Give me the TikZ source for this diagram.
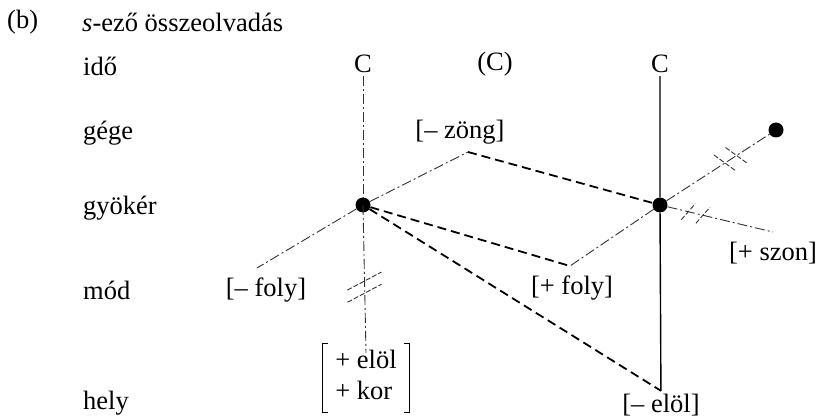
\documentclass[tikz,border=0pt]{standalone}
\usepackage{fontspec}
\setmainfont{Liberation Serif}
\usetikzlibrary{calc}
\tikzset{
  % sorok feliratai
  tier/.style={anchor=west, inner sep=0pt, font=\fontsize{26.5}{31}\selectfont},
  % jegyek, idopontok
  feat/.style={inner sep=3pt, font=\fontsize{26.5}{31}\selectfont},
  % gyokercsomopont
  rootnode/.style={circle, fill=black, minimum size=15pt, inner sep=0pt},
  % kapcsolatok
  assoc/.style={line width=0.9pt, black!80, dash pattern=on 10pt off 3pt on 2pt off 3pt},
  spread/.style={line width=1.8pt, dash pattern=on 9pt off 5pt},
  skel/.style={line width=1.4pt},
  % lekapcsolas jele
  delink/.style={line width=0.9pt, black!80, dash pattern=on 5pt off 2pt},
  % szogletes zarojel
  brace/.style={line width=1.2pt},
}

\begin{document}
\begin{tikzpicture}[x=1pt, y=-1pt]
  \useasboundingbox (0,0) rectangle (823,417);
  % sorok
  \node[tier] (b) at (7,22) {(b)};
  \node[tier] (title) at (82,22) {\textit{s}-ező összeolvadás};
  \node[tier] (ido) at (83,66) {idő};
  \node[tier] (gege) at (83,133) {gége};
  \node[tier] (gyok) at (83,208) {gyökér};
  \node[tier] (mod) at (83,290) {mód};
  \node[tier] (hely) at (83,403) {hely};
  % idopontok es gyokerek
  \node[feat] (lC) at (363,64) {C};
  \node[feat] (pC) at (495,64) {(C)};
  \node[feat] (rC) at (660,64) {C};
  \node[rootnode] (lR) at (363,205) {};
  \node[rootnode] (rR) at (660,205) {};
  \node[rootnode] (uR) at (776,130) {};
  % jegyek
  \node[feat] (zong) at (460,132) {[– zöng]};
  \node[feat] (mfoly) at (266,290) {[– foly]};
  \node[feat] (pfoly) at (572,288) {[+ foly]};
  \node[feat] (szon) at (773,253) {[+ szon]};
  \node[feat] (elol) at (661,405) {[– elöl]};
  \node[feat, minimum width=86pt, minimum height=62pt, inner xsep=10pt] (brk) at (366,378)
    {\begin{tabular}{@{}l@{}}+ elöl\\+ kor\end{tabular}};
  \draw[brace] ([xshift=5pt]brk.north west) -- (brk.north west) -- (brk.south west) -- ++(5,0);
  \draw[brace] ([xshift=-5pt]brk.north east) -- (brk.north east) -- (brk.south east) -- ++(-5,0);
  \coordinate (zongft) at (468,152);
  \coordinate (mfolyft) at (257,268);
  \coordinate (pfolyft) at (570,266);
  \coordinate (szonft) at (773,232);
  % kapcsolatok
  \draw[assoc] (lC) -- (lR);
  \draw[assoc] ($(lR)$) -- ([yshift=-9pt]brk.north);
  \draw[skel] (rC) -- (rR) -- (elol);
  \draw[assoc] (lR) -- (zongft);
  \draw[assoc] (lR) -- (mfolyft);
  \draw[assoc] (rR) -- (pfolyft);
  \draw[assoc] (rR) -- (uR);
  \draw[assoc] (rR) -- (szonft);
  \draw[spread] (zongft) -- (rR);
  \draw[spread] (lR) -- (pfolyft);
  \draw[spread] (lR) -- (elol.north);
  % lekapcsolasok
  \foreach \t in {0.44,0.51} \draw[delink] ($(lR)!\t!(brk)$) +(-17,9) -- +(17,-9);
  \foreach \t in {0.56,0.66} \draw[delink] ($(rR)!\t!(uR)$) +(-11,-8) -- +(11,8);
  \foreach \t in {0.25,0.38} \draw[delink] ($(rR)!\t!(szonft)$) +(-7,8) -- +(7,-8);
\end{tikzpicture}
\end{document}
